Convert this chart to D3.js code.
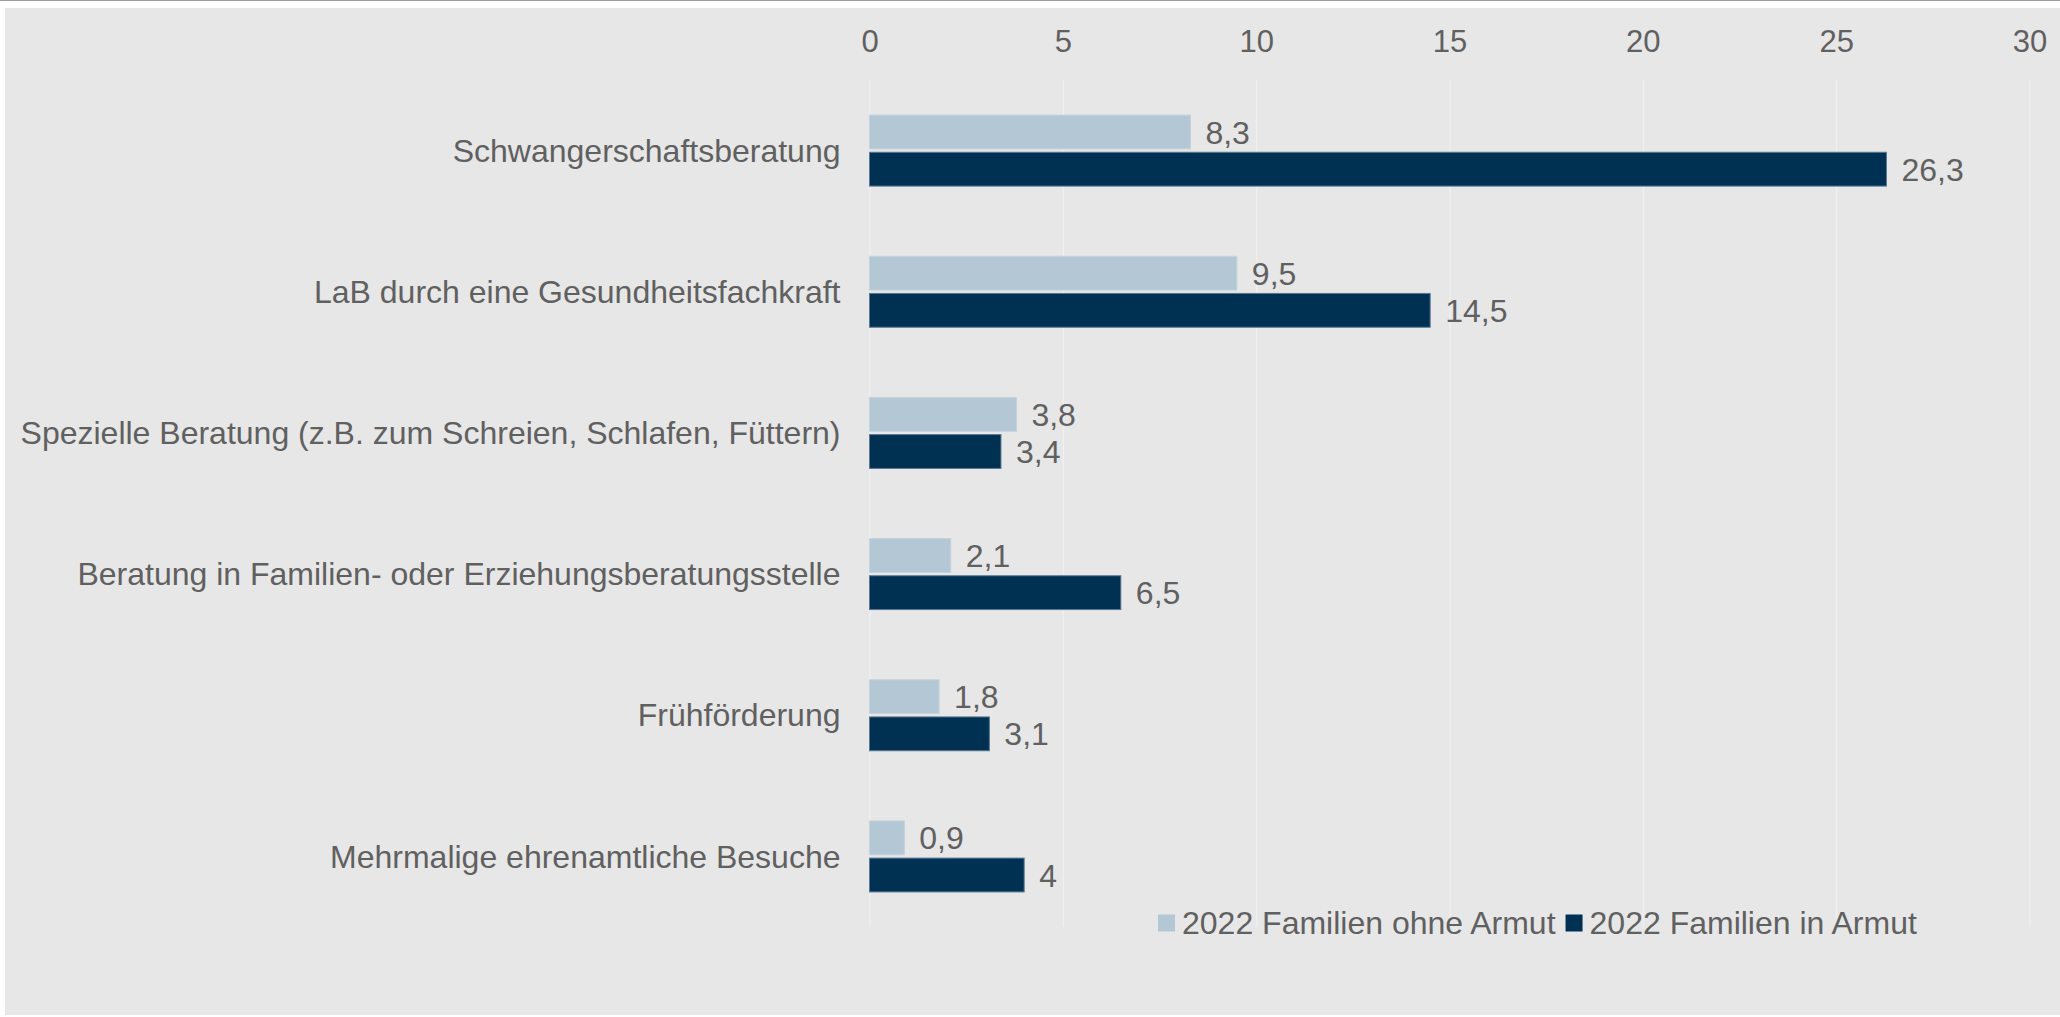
<!DOCTYPE html>
<html>
<head>
<meta charset="utf-8">
<script src="https://cdn.jsdelivr.net/npm/d3@7"></script>
<style>
  body { margin: 0; background: #ffffff; }
  svg { display: block; font-family: "Liberation Sans", Arial, sans-serif; }
  .tick text { fill: #606060; }
</style>
</head>
<body>
<div id="chart"></div>
<script>
// chart data
var categories = [
  'Schwangerschaftsberatung',
  'LaB durch eine Gesundheitsfachkraft',
  'Spezielle Beratung (z.B. zum Schreien, Schlafen, Füttern)',
  'Beratung in Familien- oder Erziehungsberatungsstelle',
  'Frühförderung',
  'Mehrmalige ehrenamtliche Besuche'
];
var series_names = ['2022 Familien ohne Armut', '2022 Familien in Armut'];
var ohne_armut = [8.3, 9.5, 3.8, 2.1, 1.8, 0.9];
var in_armut = [26.3, 14.5, 3.4, 6.5, 3.1, 4];
var x_ticks = [0, 5, 10, 15, 20, 25, 30];

var width = 2060, height = 1017;
var plot_left = 869.5, plot_right = 2029.5, plot_top = 80, plot_bottom = 927;
var text_color = '#606060';
var colors = ['#b4c7d4', '#003052'];
var strokes = ['#c4d3de', '#5a7892'];

var de = d3.formatLocale({decimal: ',', thousands: '.', grouping: [3], currency: ['', '€']});
var fmt = de.format('.1~f');

var rows = categories.map(function(c, i) {
  return {category: c, values: [ohne_armut[i], in_armut[i]]};
});

var svg = d3.select('#chart')
  .append('svg')
  .attr('width', width)
  .attr('height', height);

// frame like the exported chart
svg.append('rect')
  .attr('x', 0).attr('y', 0)
  .attr('width', width).attr('height', 1)
  .attr('fill', '#9a9a9a');
svg.append('rect')
  .attr('x', 5).attr('y', 8)
  .attr('width', width - 5).attr('height', height - 10)
  .attr('fill', '#e7e7e7');

var x = d3.scaleLinear()
  .domain([0, 30])
  .range([plot_left, plot_right]);

var y = d3.scaleBand()
  .domain(categories)
  .range([plot_top, plot_bottom])
  .paddingInner(0.497)
  .paddingOuter(0.2485);

var y_series = d3.scaleBand()
  .domain([0, 1])
  .range([0, y.bandwidth()])
  .paddingInner(0.09);

// grid + top axis
var x_axis = svg.append('g')
  .attr('class', 'x-axis')
  .attr('transform', 'translate(0,' + plot_top + ')')
  .call(d3.axisTop(x).tickValues(x_ticks).tickSize(-(plot_bottom - plot_top)).tickPadding(28));
x_axis.select('.domain').remove();
x_axis.selectAll('.tick line')
  .attr('stroke', '#efefef')
  .attr('stroke-width', 1.5);
x_axis.selectAll('.tick text')
  .attr('font-size', '31px');

// category axis
var y_axis = svg.append('g')
  .attr('class', 'y-axis')
  .attr('transform', 'translate(' + plot_left + ',0)')
  .call(d3.axisLeft(y).tickSize(0).tickPadding(29));
y_axis.select('.domain').remove();
y_axis.selectAll('.tick text')
  .attr('font-size', '32px')
  .attr('dy', '0.35em');

// bars
var groups = svg.append('g')
  .attr('class', 'bars')
  .selectAll('g')
  .data(rows)
  .enter()
  .append('g')
  .attr('transform', d => 'translate(0,' + y(d.category) + ')');

groups.selectAll('rect')
  .data(d => d.values)
  .enter()
  .append('rect')
  .attr('x', x(0))
  .attr('y', (d, i) => y_series(i))
  .attr('width', d => x(d) - x(0))
  .attr('height', y_series.bandwidth())
  .attr('fill', (d, i) => colors[i])
  .attr('stroke', (d, i) => strokes[i])
  .attr('stroke-width', 1);

groups.selectAll('text')
  .data(d => d.values)
  .enter()
  .append('text')
  .attr('x', d => x(d) + 15)
  .attr('y', (d, i) => y_series(i) + y_series.bandwidth() / 2)
  .attr('dy', '0.36em')
  .attr('font-size', '32px')
  .attr('fill', text_color)
  .text(d => fmt(d));

// legend
var legend = svg.append('g').attr('class', 'legend');
var lx = 1158, ly = 923;
series_names.forEach(function(name, i) {
  legend.append('rect')
    .attr('x', lx)
    .attr('y', ly - 8.5)
    .attr('width', 17)
    .attr('height', 17)
    .attr('fill', colors[i]);
  var t = legend.append('text')
    .attr('x', lx + 24)
    .attr('y', ly)
    .attr('dy', '0.35em')
    .attr('font-size', '32px')
    .attr('fill', text_color)
    .text(name);
  lx = lx + 24 + t.node().getComputedTextLength() + 10;
});
</script>
</body>
</html>
